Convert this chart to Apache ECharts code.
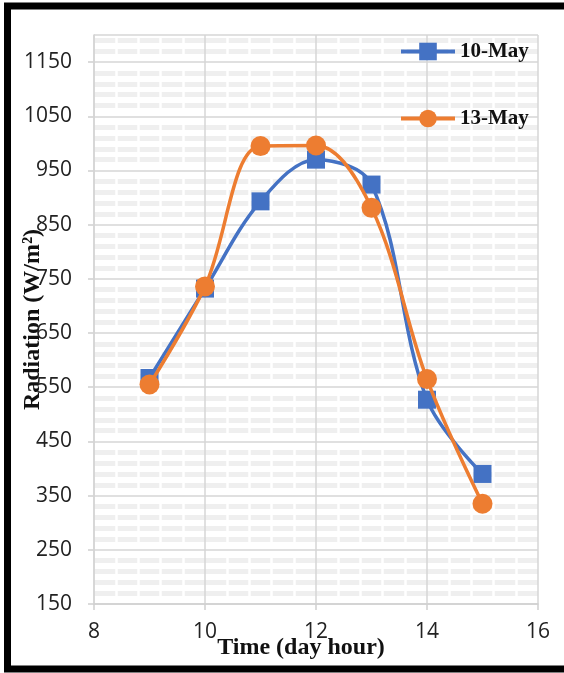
<!DOCTYPE html>
<html>
<head>
<meta charset="utf-8">
<script src="https://cdn.jsdelivr.net/npm/echarts@6/dist/echarts.min.js"></script>
<style>
html,body{margin:0;padding:0;background:#fff;}
#c{width:564px;height:673px;}
</style>
</head>
<body>
<div id="c"></div>
<script>
const hours = [9, 10, 11, 12, 13, 14, 15];
const may10 = [567, 732, 893, 970, 924, 527, 390];
const may13 = [555, 736, 995, 996, 881, 565, 335];
const seriesNames = ['10-May', '13-May'];
const xTitle = 'Time (day hour)';
const yTitle = 'Radiation (W/m\u00B2)';

const chart = echarts.init(document.getElementById('c'));
const zip = (xs, ys) => xs.map((x, i) => [x, ys[i]]);
const grid = {left: 94, right: 26, top: 35, bottom: 69, outerBoundsMode: 'none', containLabel: false};
const labelFont = {fontFamily: 'Open Sans', fontSize: 21, color: '#222'};
const titleFont = {fontFamily: 'Liberation Serif', fontWeight: 'bold', fontSize: 24, color: '#111'};

chart.setOption({
  animation: false,
  backgroundColor: '#fff',
  graphic: [{
    type: 'rect', z: 100, silent: true,
    shape: {x: 7.5, y: 6, width: 620, height: 663},
    style: {fill: 'none', stroke: '#000', lineWidth: 7}
  }],
  grid: grid,
  legend: {
    orient: 'vertical', left: 394, top: 36,
    itemWidth: 54, itemHeight: 22, itemGap: 46,
    lineStyle: {width: 4},
    textStyle: {fontFamily: 'Liberation Serif', fontWeight: 'bold', fontSize: 21, color: '#111'},
    data: seriesNames
  },
  xAxis: [{
    type: 'value', min: 8, max: 16, interval: 2, z: 3,
    name: xTitle, nameLocation: 'middle', nameGap: 32, nameMoveOverlap: false,
    nameTextStyle: Object.assign({padding: [0, 30, 0, 0]}, titleFont),
    axisLine: {show: true, lineStyle: {color: '#d0d0d0', width: 1.5}},
    axisTick: {show: true, length: 6, lineStyle: {color: '#d0d0d0', width: 1.5}},
    axisLabel: Object.assign({margin: 18}, labelFont),
    splitLine: {show: true, lineStyle: {color: '#d6d6d6', width: 1.5}}
  }, {
    type: 'value', min: 8, max: 16, interval: 2, z: 1, position: 'bottom',
    axisLine: {show: false}, axisTick: {show: false}, axisLabel: {show: false},
    splitLine: {show: false},
    minorTick: {show: false, splitNumber: 5},
    minorSplitLine: {show: true, lineStyle: {color: '#ffffff', width: 2.5}}
  }],
  yAxis: [{
    type: 'value', min: 150, max: 1200, interval: 100, z: 2,
    name: yTitle, nameLocation: 'middle', nameGap: 49, nameMoveOverlap: false,
    nameTextStyle: titleFont,
    axisLine: {show: true, lineStyle: {color: '#d0d0d0', width: 1.5}},
    axisTick: {show: true, length: 6, lineStyle: {color: '#d0d0d0', width: 1.5}},
    axisLabel: Object.assign({margin: 22, showMaxLabel: false, formatter: v => String(v)}, labelFont),
    splitLine: {show: true, lineStyle: {color: '#d6d6d6', width: 1.5}}
  }, {
    type: 'value', min: 150, max: 1200, interval: 100, z: 0,
    axisLine: {show: false}, axisTick: {show: false}, axisLabel: {show: false},
    splitLine: {show: false},
    minorTick: {show: false, splitNumber: 5},
    minorSplitLine: {show: true, lineStyle: {color: '#efefef', width: 5}}
  }],
  series: [{
    name: seriesNames[0], type: 'line', smooth: 0.35, z: 5,
    xAxisIndex: 0, yAxisIndex: 0,
    data: zip(hours, may10),
    symbol: 'rect', symbolSize: 18,
    itemStyle: {color: '#4472c4'},
    lineStyle: {color: '#4472c4', width: 3.5}
  }, {
    name: seriesNames[1], type: 'line', smooth: 0.35, z: 6,
    xAxisIndex: 0, yAxisIndex: 0,
    data: zip(hours, may13),
    symbol: 'circle', symbolSize: 20,
    itemStyle: {color: '#ed7d31'},
    lineStyle: {color: '#ed7d31', width: 3.5}
  }]
});
</script>
</body>
</html>
